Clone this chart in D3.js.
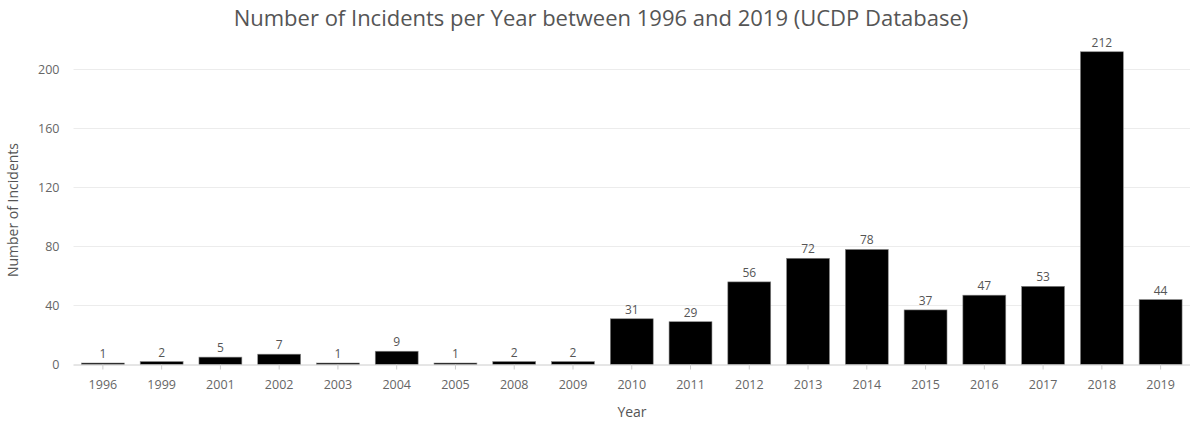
<!DOCTYPE html>
<html><head><meta charset="utf-8">
<script src="https://cdn.jsdelivr.net/npm/d3@7"></script>
<style>body{margin:0;background:#fff;} text{font-family:"Open Sans","Noto Sans",sans-serif;}</style>
</head><body>
<svg id="c" width="1190" height="421"></svg>
<script>
const years = ["1996","1999","2001","2002","2003","2004","2005","2008","2009","2010","2011","2012","2013","2014","2015","2016","2017","2018","2019"];
const incidents = [1,2,5,7,1,9,1,2,2,31,29,56,72,78,37,47,53,212,44];
const yTicks = [0,40,80,120,160,200];

(function(){
const svg = d3.select("#c");
const mL = 73.5, mR = 1190, mT = 37, mB = 364.5;
const x = d3.scaleBand().domain(years).range([mL, mR]).paddingInner(0.27).paddingOuter(0.135);
const y = d3.scaleLinear().domain([0, 222]).range([mB, mT]);

svg.append("text").attr("x", 601).attr("y", 26).attr("text-anchor","middle")
  .attr("font-size", 22).attr("fill","#555").text("Number of Incidents per Year between 1996 and 2019 (UCDP Database)");

// grid
svg.append("g").selectAll("line").data(yTicks.filter(d=>d>0)).join("line")
  .attr("x1", mL).attr("x2", mR).attr("y1", d=>Math.round(y(d))+0.5).attr("y2", d=>Math.round(y(d))+0.5)
  .attr("stroke","#ececec").attr("stroke-width",1);

// y axis
const ya = svg.append("g").attr("transform",`translate(${mL},0)`)
  .call(d3.axisLeft(y).tickValues(yTicks).tickSize(0).tickPadding(14));
ya.select(".domain").remove();
ya.selectAll("text").attr("font-size",12.5).attr("fill","#666").style("font-family","'Open Sans','Noto Sans',sans-serif");

// bars
svg.append("g").selectAll("rect").data(years).join("rect")
  .attr("x", d=>x(d)).attr("width", x.bandwidth())
  .attr("y", (d,i)=>y(incidents[i])).attr("height", (d,i)=>mB - y(incidents[i]))
  .attr("fill","#000").attr("stroke","#888").attr("stroke-width",0.6);

// value labels
svg.append("g").selectAll("text").data(years).join("text")
  .attr("x", d=>x(d)+x.bandwidth()/2).attr("y", (d,i)=>y(incidents[i])-5)
  .attr("text-anchor","middle").attr("font-size",12).attr("fill","#555")
  .text((d,i)=>incidents[i]);

// x axis
const xa = svg.append("g").attr("transform",`translate(0,${mB})`)
  .call(d3.axisBottom(x).tickSize(5).tickPadding(11));
xa.select(".domain").attr("stroke","#ccc").attr("d",`M${mL},0.5H${mR}`);
xa.selectAll(".tick line").attr("stroke","#ccc");
xa.selectAll("text").attr("font-size",12.5).attr("fill","#666").style("font-family","'Open Sans','Noto Sans',sans-serif");

svg.append("text").attr("x", 632).attr("y", 417).attr("text-anchor","middle")
  .attr("font-size",14).attr("fill","#555").text("Year");
svg.append("text").attr("transform","translate(18,210) rotate(-90)").attr("text-anchor","middle")
  .attr("font-size",14).attr("fill","#555").text("Number of Incidents");
})();
</script>
</body></html>
